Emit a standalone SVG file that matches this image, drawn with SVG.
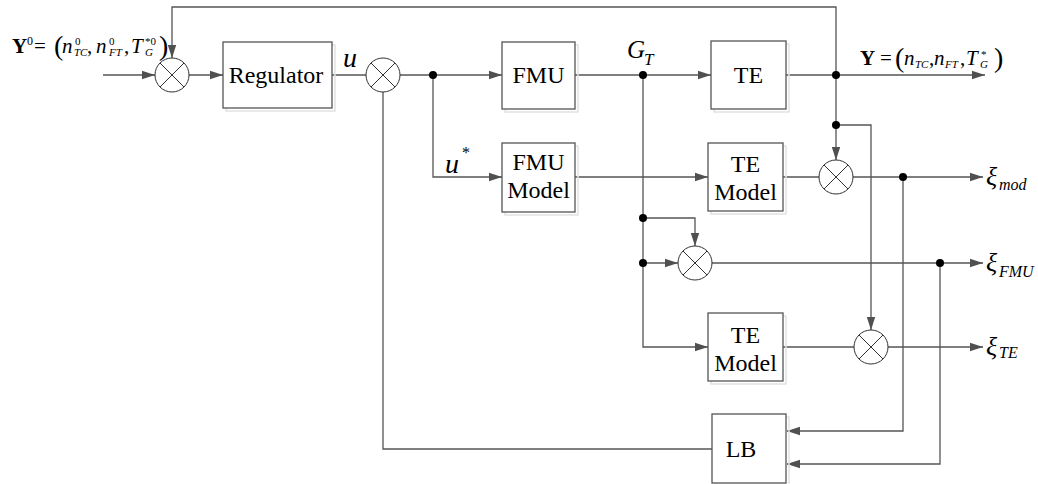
<svg xmlns="http://www.w3.org/2000/svg" width="1038" height="484" viewBox="0 0 1038 484">
<style>
.box{fill:#fff;stroke:#555;stroke-width:1.3}
.sh{fill:none;stroke:#e2e2e2;stroke-width:1.5}
.ln{fill:none;stroke:#555;stroke-width:1.3}
.ar{marker-end:url(#arr)}
.sum{fill:#fff;stroke:#333;stroke-width:1}
.dot{fill:#000}
text{font-family:"Liberation Serif","Times New Roman",serif;fill:#000}
.bt{font-size:24px;text-anchor:middle}
.it{font-style:italic}
</style>
<defs>
<marker id="arr" markerWidth="14" markerHeight="10" refX="13" refY="5" orient="auto" markerUnits="userSpaceOnUse">
<path d="M0,0.8 L13,5 L0,9.2 Z" fill="#505050"/>
</marker>
<g id="sumg">
<circle cx="0" cy="0" r="17" class="sum"/>
<path d="M-12,-12 L12,12 M12,-12 L-12,12" stroke="#333" stroke-width="1" fill="none"/>
</g>
</defs>

<g id="connectors">
<path class="ln ar" d="M103,75 H155"/>
<path class="ln ar" d="M189,75 H223"/>
<path class="ln" d="M332,75 H366"/>
<path class="ln ar" d="M400,75 H502"/>
<path class="ln ar" d="M433,75 V177 H502"/>
<path class="ln ar" d="M575,75 H711"/>
<path class="ln ar" d="M786,75 H985"/>
<path class="ln ar" d="M836,125 V7 H172 V58"/>
<path class="ln ar" d="M836,125 V160"/>
<path class="ln ar" d="M836,125 H871 V330"/>
<path class="ln ar" d="M575,177 H708"/>
<path class="ln" d="M783,177 H819"/>
<path class="ln ar" d="M853,177 H983"/>
<path class="ln ar" d="M643,75 V347 H708"/>
<path class="ln ar" d="M643,218 H695 V246"/>
<path class="ln ar" d="M643,263 H678"/>
<path class="ln ar" d="M712,263 H983"/>
<path class="ln" d="M783,347 H854"/>
<path class="ln ar" d="M888,347 H983"/>
<path class="ln ar" d="M903,177 V431 H787"/>
<path class="ln ar" d="M940,263 V464 H787"/>
<path class="ln" d="M712,449 H383 V92"/>
<circle class="dot" cx="433" cy="75" r="4"/>
<circle class="dot" cx="643" cy="75" r="4"/>
<circle class="dot" cx="836" cy="75" r="4"/>
<circle class="dot" cx="836" cy="125" r="4"/>
<circle class="dot" cx="903" cy="177" r="4"/>
<circle class="dot" cx="643" cy="218" r="4"/>
<circle class="dot" cx="643" cy="263" r="4"/>
<circle class="dot" cx="940" cy="263" r="4"/>
</g>

<g id="sum1"><use href="#sumg" x="172" y="75"/></g>
<g id="sum2"><use href="#sumg" x="383" y="75"/></g>
<g id="summod"><use href="#sumg" x="836" y="177"/></g>
<g id="sumfmu"><use href="#sumg" x="695" y="263"/></g>
<g id="sumte"><use href="#sumg" x="871" y="347"/></g>

<g id="regulator">
<rect class="sh" x="226" y="45" width="109" height="66"/>
<rect class="box" x="223" y="42" width="109" height="66"/>
<text class="bt" x="276" y="83">Regulator</text>
</g>
<g id="fmu">
<rect class="sh" x="505" y="45" width="73" height="67"/>
<rect class="box" x="502" y="42" width="73" height="67"/>
<text class="bt" x="538.5" y="83">FMU</text>
</g>
<g id="fmumodel">
<rect class="sh" x="505" y="146" width="73" height="69"/>
<rect class="box" x="502" y="143" width="73" height="69"/>
<text class="bt" x="538.5" y="170">FMU</text>
<text class="bt" x="538.5" y="198">Model</text>
</g>
<g id="te">
<rect class="sh" x="714" y="44" width="75" height="68"/>
<rect class="box" x="711" y="41" width="75" height="68"/>
<text class="bt" x="748.5" y="83">TE</text>
</g>
<g id="temodel1">
<rect class="sh" x="711" y="146" width="75" height="68"/>
<rect class="box" x="708" y="143" width="75" height="68"/>
<text class="bt" x="745.5" y="172">TE</text>
<text class="bt" x="745.5" y="200">Model</text>
</g>
<g id="temodel2">
<rect class="sh" x="711" y="316" width="75" height="68"/>
<rect class="box" x="708" y="313" width="75" height="68"/>
<text class="bt" x="745.5" y="343">TE</text>
<text class="bt" x="745.5" y="371">Model</text>
</g>
<g id="lb">
<rect class="sh" x="715" y="417" width="74" height="69"/>
<rect class="box" x="712" y="414" width="74" height="69"/>
<text class="bt" x="741" y="457">LB</text>
</g>

<g id="labels">
<text class="it" x="343" y="67" font-size="28">u</text>
<text class="it" x="445" y="173" font-size="28">u</text>
<text x="462" y="158" font-size="16">*</text>
<text class="it" x="627" y="58" font-size="25">G</text>
<text class="it" x="644" y="65" font-size="17">T</text>

<text x="12" y="53" font-size="21" font-weight="bold">Y</text>
<text x="27" y="45" font-size="12">0</text>
<text x="34" y="53" font-size="21">=</text>
<text x="54" y="55" font-size="28">(</text>
<text class="it" x="62" y="53" font-size="21">n</text>
<text x="75" y="45" font-size="11">0</text>
<text class="it" x="74" y="56" font-size="11">TC</text>
<text x="87" y="53" font-size="21">,</text>
<text class="it" x="96" y="53" font-size="21">n</text>
<text x="109" y="45" font-size="11">0</text>
<text class="it" x="109" y="56" font-size="11">FT</text>
<text x="124" y="53" font-size="21">,</text>
<text class="it" x="131" y="53" font-size="21">T</text>
<text x="145" y="45" font-size="11">*0</text>
<text class="it" x="145" y="56" font-size="11">G</text>
<text x="159" y="55" font-size="28">)</text>

<text x="860" y="65" font-size="21" font-weight="bold">Y</text>
<text x="880" y="65" font-size="21">=</text>
<text x="895" y="67" font-size="28">(</text>
<text class="it" x="904" y="65" font-size="21">n</text>
<text class="it" x="915" y="68" font-size="11">TC</text>
<text x="929" y="65" font-size="21">,</text>
<text class="it" x="934" y="65" font-size="21">n</text>
<text class="it" x="945" y="68" font-size="11">FT</text>
<text x="960" y="65" font-size="21">,</text>
<text class="it" x="966" y="65" font-size="21">T</text>
<text x="981" y="58" font-size="11">*</text>
<text class="it" x="980" y="68" font-size="11">G</text>
<text x="994" y="67" font-size="28">)</text>

<text class="it" x="986" y="185" font-size="26">ξ</text>
<text class="it" x="999" y="190" font-size="16">mod</text>
<text class="it" x="986" y="271" font-size="26">ξ</text>
<text class="it" x="999" y="277" font-size="16">FMU</text>
<text class="it" x="986" y="355" font-size="26">ξ</text>
<text class="it" x="999" y="358" font-size="16">TE</text>
</g>
</svg>
